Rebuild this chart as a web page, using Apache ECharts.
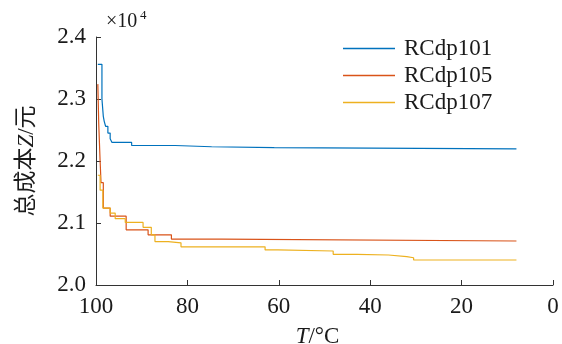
<!DOCTYPE html>
<html>
<head>
<meta charset="utf-8">
<script src="https://cdn.jsdelivr.net/npm/echarts@6/dist/echarts.min.js"></script>
<style>
html,body{margin:0;padding:0;background:#fff;}
#chart{width:562px;height:344px;}
</style>
</head>
<body>
<div id="chart"></div>
<script>
// Temperature T (°C) and total cost Z (×10^4 元)
const seriesNames = ['RCdp101', 'RCdp105', 'RCdp107'];
const xTicks = [100, 80, 60, 40, 20, 0];
const yTicks = [2.0, 2.1, 2.2, 2.3, 2.4];

const tBlue = [99.6, 98.7, 98.4, 98.2, 97.9, 97.4, 96.9, 96.5, 92.2, 82.7, 74.7, 61.0, 8.0];
const zBlue = [2.356, 2.300, 2.272, 2.264, 2.256, 2.245, 2.236, 2.230, 2.225, 2.223, 2.2215, 2.2195, 2.2195];

const tRed = [99.6, 99.4, 99.1, 98.9, 98.4, 96.9, 93.4, 88.6, 83.5, 72.5, 8.0];
const zRed = [2.324, 2.260, 2.200, 2.165, 2.124, 2.111, 2.089, 2.081, 2.074, 2.071, 2.071];

const tOrange = [99.6, 99.1, 98.5, 96.9, 95.8, 93.6, 89.7, 87.9, 87.1, 84.2, 81.4, 63.0, 60.2, 48.1, 42.9, 36.0, 32.0, 30.5, 8.0];
const zOrange = [2.177, 2.153, 2.124, 2.116, 2.107, 2.101, 2.093, 2.081, 2.070, 2.068, 2.0615, 2.0565, 2.0548, 2.0495, 2.0484, 2.0457, 2.0440, 2.0403, 2.0403];

const colors = ['#0072BD', '#D95319', '#EDB120'];
const serif = '"Liberation Serif", "Times New Roman", serif';
const cjk = '"Liberation Serif", "Noto Sans CJK SC", serif';

function pairs(t, z) { return t.map((v, i) => [v, z[i]]); }

const chart = echarts.init(document.getElementById('chart'), null, {renderer: 'canvas'});
chart.setOption({
  animation: false,
  backgroundColor: '#fff',
  color: colors,
  grid: {left: 96, right: 9, top: 37, bottom: 59, containLabel: false, outerBoundsMode: 'none'},
  legend: {
    orient: 'vertical', left: 338, top: 32,
    icon: 'rect', itemWidth: 52, itemHeight: 1.6, itemGap: 4,
    textStyle: {fontFamily: serif, fontSize: 23, color: '#1a1a1a', padding: [0,0,0,4]},
    data: seriesNames
  },
  xAxis: {
    type: 'value', inverse: true, min: 0, max: 100, interval: 20,
    axisLine: {onZero: false, lineStyle: {color: '#333', width: 1}},
    axisTick: {inside: true, length: 5, lineStyle: {color: '#333'}},
    axisLabel: {fontFamily: serif, fontSize: 23, color: '#1a1a1a', margin: 10},
    splitLine: {show: false},
    name: '{i|T}/°C', nameLocation: 'middle', nameGap: 40,
    nameTextStyle: {fontFamily: serif, fontSize: 23, color: '#1a1a1a', padding: [0, 14, 0, 0],
      rich: {i: {fontFamily: serif, fontSize: 23, fontStyle: 'italic', color: '#1a1a1a'}}}
  },
  yAxis: {
    type: 'value', min: 2.0, max: 2.4, interval: 0.1,
    axisLine: {show: true, onZero: false, lineStyle: {color: '#333', width: 1}},
    axisTick: {show: true, inside: true, length: 5, lineStyle: {color: '#333'}},
    axisLabel: {fontFamily: serif, fontSize: 23, color: '#1a1a1a', margin: 10,
      formatter: v => v.toFixed(1)},
    splitLine: {show: false},
    name: '总成本{i|Z}/元', nameLocation: 'middle', nameGap: 58,
    nameTextStyle: {fontFamily: cjk, fontSize: 23, color: '#1a1a1a',
      rich: {i: {fontFamily: serif, fontSize: 23, fontStyle: 'italic', color: '#1a1a1a'}}}
  },
  graphic: [
    {type: 'text', left: 106, top: 12, style: {text: '×10', fontFamily: serif, fontSize: 20, fill: '#1a1a1a'}},
    {type: 'text', left: 140, top: 9, style: {text: '4', fontFamily: serif, fontSize: 13, fill: '#1a1a1a'}}
  ],
  series: [
    {name: seriesNames[0], type: 'line', step: 'end', showSymbol: false, data: pairs(tBlue, zBlue),
      lineStyle: {width: 1.2, color: colors[0]}},
    {name: seriesNames[1], type: 'line', step: 'end', showSymbol: false, data: pairs(tRed, zRed),
      lineStyle: {width: 1.2, color: colors[1]}},
    {name: seriesNames[2], type: 'line', step: 'end', showSymbol: false, data: pairs(tOrange, zOrange),
      lineStyle: {width: 1.2, color: colors[2]}}
  ]
});
</script>
</body>
</html>
